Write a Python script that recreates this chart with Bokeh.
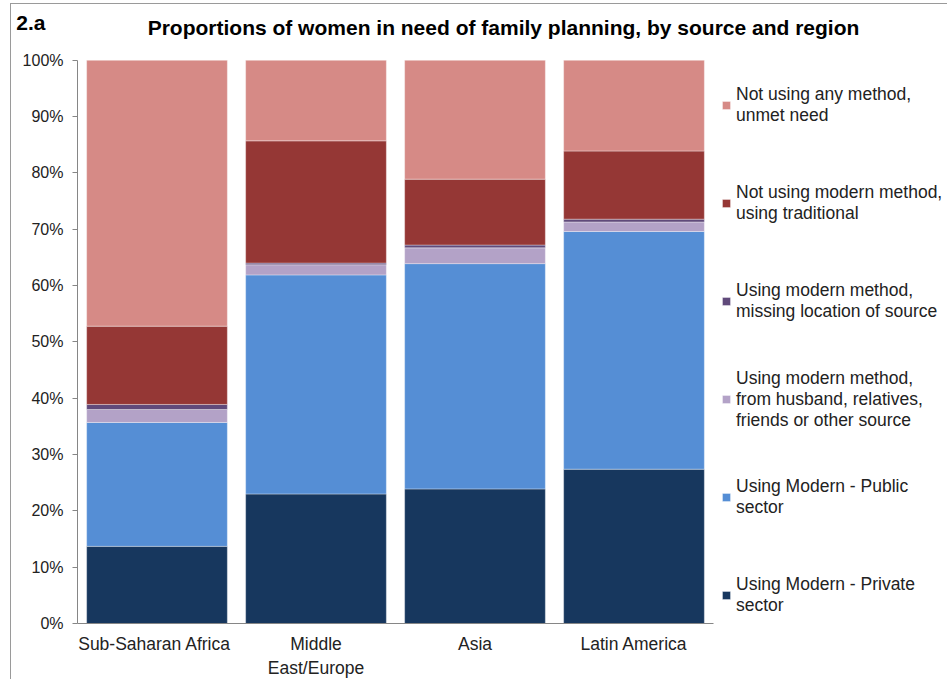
from bokeh.plotting import figure
from bokeh.models import (ColumnDataSource, Legend, LegendItem, FixedTicker, Range1d, Label,
                          LinearAxis)
from bokeh.embed import file_html
from bokeh.resources import INLINE

regions = ["Sub-Saharan  Africa", "Middle East/Europe", "Asia", "Latin America"]
region_tick_labels = ["Sub-Saharan  Africa", "Middle\nEast/Europe", "Asia", "Latin America"]
private = [13.7, 23.0, 23.9, 27.4]
public = [22.0, 38.9, 40.0, 42.2]
other_source = [2.3, 1.8, 2.8, 1.7]
missing_source = [0.9, 0.3, 0.5, 0.5]
traditional = [13.9, 21.7, 11.7, 12.1]
unmet = [47.2, 14.3, 21.1, 16.1]

series_keys = ["private", "public", "other_source", "missing_source", "traditional", "unmet"]
series_names = [
    "Using Modern - Private\nsector",
    "Using Modern - Public\nsector",
    "Using modern method,\nfrom husband, relatives,\nfriends or other source",
    "Using modern method,\nmissing location of source",
    "Not using modern method,\nusing traditional",
    "Not using any method,\nunmet need",
]
colors = ["#17375E", "#558ED5", "#B3A2C7", "#604A7B", "#953735", "#D68A86"]
y_ticks = [0, 10, 20, 30, 40, 50, 60, 70, 80, 90, 100]

chart_number = "2.a"
chart_title = "Proportions of women in need of family planning, by source and region"

positions = list(range(len(regions)))
source = ColumnDataSource(dict(pos=positions, private=private, public=public,
                               other_source=other_source, missing_source=missing_source,
                               traditional=traditional, unmet=unmet))

FONT = "Liberation Sans"

# layout (pixels)
CANVAS_W, CANVAS_H = 937, 676
BORDER_L, BORDER_B = 66, 55
FRAME_W = CANVAS_W - BORDER_L
FRAME_H = CANVAS_H - BORDER_B
PX_PER_CAT = 159.0
PX_PER_PCT = 5.65
NUMBER_ABOVE_PX = 38      # chart number sits this far above the 100% line

x_start = -0.5
x_end = x_start + FRAME_W / PX_PER_CAT
y_end = FRAME_H / PX_PER_PCT
number_y = 100 + NUMBER_ABOVE_PX / PX_PER_PCT

p = figure(x_range=Range1d(x_start, x_end), y_range=Range1d(0, y_end),
           width=CANVAS_W, height=CANVAS_H, output_backend="svg", toolbar_location=None,
           min_border_left=BORDER_L, min_border_right=0, min_border_top=0,
           min_border_bottom=BORDER_B)
p.margin = (3, 0, 0, 10)
p.stylesheets = [":host { border-top: 1px solid #9a9a9a; border-left: 1px solid #9a9a9a; }"]

renderers = p.vbar_stack(series_keys, x="pos", width=0.885, color=colors, source=source,
                         line_color="white", line_alpha=0.35, line_width=1)

p.add_layout(Label(x=426, y=596, x_units="screen", y_units="screen", text=chart_title,
                   text_font=FONT, text_font_size="21px", text_font_style="bold",
                   text_align="center", text_baseline="middle", text_color="#000000"))

p.xgrid.grid_line_color = None
p.ygrid.grid_line_color = None
p.outline_line_color = None

p.yaxis.bounds = (0, 100)
p.yaxis.ticker = FixedTicker(ticks=y_ticks)
p.yaxis.major_label_overrides = {t: f"{t}%" for t in y_ticks}
p.yaxis.minor_tick_line_color = None
p.yaxis.major_tick_out = 5
p.yaxis.major_tick_in = 0
p.yaxis.axis_line_color = "#868686"
p.yaxis.major_tick_line_color = "#868686"
p.yaxis.major_label_text_font = FONT
p.yaxis.major_label_text_font_size = "16px"
p.yaxis.major_label_text_color = "#222222"
p.yaxis.major_label_standoff = 9

# chart number "2.a" at the top-left, carried by an outer left axis
num_axis = LinearAxis(ticker=FixedTicker(ticks=[number_y]),
                      major_label_overrides={number_y: chart_number},
                      axis_line_color=None, major_tick_line_color=None,
                      minor_tick_line_color=None, major_tick_out=0, major_tick_in=0,
                      major_label_text_font=FONT, major_label_text_font_size="21px",
                      major_label_text_font_style="bold", major_label_text_color="#000000")
try:
    num_axis.major_label_standoff = -26
except ValueError:
    num_axis.major_label_standoff = 0
p.add_layout(num_axis, "left")

p.xaxis.bounds = (-0.5, len(regions) - 0.5)
p.xaxis.ticker = FixedTicker(ticks=positions)
p.xaxis.major_label_overrides = {i: t for i, t in zip(positions, region_tick_labels)}
p.xaxis.axis_line_color = "#868686"
p.xaxis.major_tick_line_color = None
p.xaxis.major_tick_out = 0
p.xaxis.major_tick_in = 0
p.xaxis.minor_tick_line_color = None
p.xaxis.major_label_text_font = FONT
p.xaxis.major_label_text_font_size = "17.5px"
p.xaxis.major_label_text_color = "#222222"
p.xaxis.major_label_standoff = 10

items = [LegendItem(label=series_names[i], renderers=[renderers[i]]) for i in reversed(range(6))]
legend = Legend(items=items, location=(644, -21), margin=0, padding=0, spacing=0,
                label_height=98, glyph_width=10, glyph_height=10, label_standoff=5,
                label_text_font=FONT, label_text_font_size="17.5px", label_text_color="#222222",
                border_line_color=None, background_fill_alpha=0)
p.add_layout(legend)

open("out.html", "w").write(file_html(p, INLINE))
